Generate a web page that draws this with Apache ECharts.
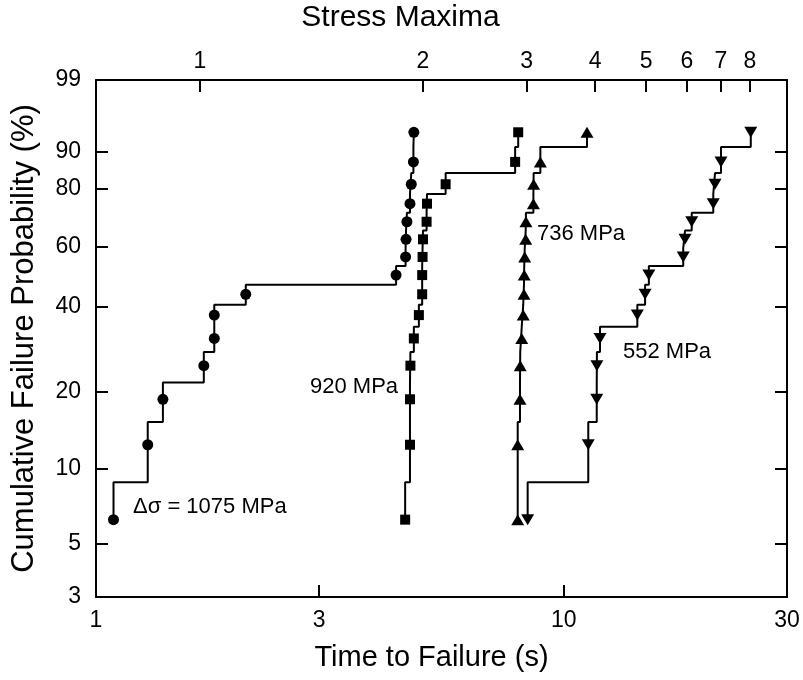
<!DOCTYPE html>
<html><head><meta charset="utf-8">
<script src="https://cdn.jsdelivr.net/npm/echarts@6/dist/echarts.min.js"></script>
<style>html,body{margin:0;padding:0;background:#fff}#c{width:803px;height:680px}</style>
</head><body><div id="c"></div>
<script>
// Cumulative failure probability (%) of each ranked specimen
const failureProbability = [6.25, 12.5, 18.75, 25, 31.25, 37.5, 43.75, 50, 56.25, 62.5, 68.75, 75, 81.25, 87.5, 93.75];
// Time to failure (s) for each stress amplitude
const time1075 = [1.09, 1.29, 1.39, 1.70, 1.79, 1.79, 2.09, 4.38, 4.59, 4.60, 4.62, 4.69, 4.72, 4.77, 4.78];
const time920  = [4.58, 4.69, 4.69, 4.70, 4.78, 4.90, 4.98, 4.98, 4.99, 5.00, 5.09, 5.10, 5.59, 7.87, 7.99];
const time736  = [7.97, 7.97, 8.06, 8.07, 8.13, 8.19, 8.22, 8.23, 8.25, 8.29, 8.30, 8.61, 8.62, 8.91, 11.21];
const time552  = [8.37, 11.28, 11.76, 11.77, 11.95, 14.36, 14.92, 15.2, 18.0, 18.16, 18.77, 20.87, 21.05, 21.68, 25.1];
// Axis ticks
const timeTicks = [1, 3, 10, 30];
const probabilityTicks = [3, 5, 10, 20, 40, 60, 80, 90, 99];
const stressMaximaLabels = [1, 2, 3, 4, 5, 6, 7, 8];
const stressMaximaTimes = [1.667, 5.0, 8.333, 11.667, 15.0, 18.333, 21.667, 25.0];

const lg = v => Math.log10(v);
const wb = p => Math.log(-Math.log(1 - p / 100));
const FONT = '"Liberation Sans", Arial, Helvetica, sans-serif';

function stepLine(times, probs) {
  const w = probs.map(wb), pts = [];
  for (let i = 0; i < times.length; i++) {
    const lo = i === 0 ? w[0] : (w[i - 1] + w[i]) / 2;
    const hi = i === times.length - 1 ? w[i] : (w[i] + w[i + 1]) / 2;
    pts.push([lg(times[i]), lo], [lg(times[i]), hi]);
  }
  return pts;
}
const pts = (times, probs) => times.map((t, i) => [lg(t), wb(probs[i])]);

const seriesDefs = [
  {name: '1075 MPa', t: time1075, symbol: 'circle', size: 11, rot: 0},
  {name: '920 MPa', t: time920, symbol: 'rect', size: 10, rot: 0},
  {name: '736 MPa', t: time736, symbol: 'triangle', size: [13, 11], rot: 0},
  {name: '552 MPa', t: time552, symbol: 'triangle', size: [13, 11], rot: 180}
];
const series = [];
seriesDefs.forEach(d => {
  series.push({type: 'line', data: stepLine(d.t, failureProbability), showSymbol: false, symbol: 'none',
    lineStyle: {color: '#000', width: 2}, silent: true, z: 2, animation: false});
  series.push({type: 'scatter', data: pts(d.t, failureProbability), symbol: d.symbol, symbolSize: d.size,
    symbolRotate: d.rot, itemStyle: {color: '#000', opacity: 1}, z: 3, animation: false});
});

const axisLine = {onZero: false, lineStyle: {color: '#000', width: 2}};
const tickStyle = {color: '#000', width: 2};
const findLabel = (vals, labels) => v => {
  const i = vals.findIndex(x => Math.abs(x - v) < 1e-6);
  return i >= 0 ? String(labels[i]) : '';
};
const xMin = lg(timeTicks[0]), xMax = lg(timeTicks[timeTicks.length - 1]);
const yMin = wb(probabilityTicks[0]), yMax = wb(probabilityTicks[probabilityTicks.length - 1]);

const option = {
  backgroundColor: '#fff',
  animation: false,
  grid: {left: 96, top: 80, right: 16, bottom: 83, containLabel: false, outerBoundsMode: 'none'},
  xAxis: [
    {type: 'value', position: 'bottom', min: xMin, max: xMax, axisLine,
     splitLine: {show: false},
     axisTick: {inside: true, length: 12, lineStyle: tickStyle, customValues: timeTicks.map(lg)},
     axisLabel: {customValues: timeTicks.map(lg), formatter: findLabel(timeTicks.map(lg), timeTicks),
       color: '#000', fontSize: 23, fontFamily: FONT, margin: 12, showMinLabel: true, showMaxLabel: true},
     name: 'Time to Failure (s)', nameLocation: 'middle', nameGap: 46,
     nameTextStyle: {color: '#000', fontSize: 29, fontFamily: FONT, padding: [0, 20, 0, 0]}},
    {type: 'value', position: 'top', min: xMin, max: xMax, axisLine,
     splitLine: {show: false},
     axisTick: {inside: true, length: 12, lineStyle: tickStyle, customValues: stressMaximaTimes.map(lg)},
     axisLabel: {customValues: stressMaximaTimes.map(lg), formatter: findLabel(stressMaximaTimes.map(lg), stressMaximaLabels),
       color: '#000', fontSize: 23, fontFamily: FONT, margin: 7},
     name: 'Stress Maxima', nameLocation: 'middle', nameGap: 47,
     nameTextStyle: {color: '#000', fontSize: 30, fontFamily: FONT, padding: [0, 82, 0, 0]}},
  ],
  yAxis: [
    {type: 'value', position: 'left', min: yMin, max: yMax, axisLine,
     splitLine: {show: false},
     axisTick: {inside: true, length: 12, lineStyle: tickStyle, customValues: probabilityTicks.map(wb)},
     axisLabel: {customValues: probabilityTicks.map(wb), formatter: findLabel(probabilityTicks.map(wb), probabilityTicks),
       color: '#000', fontSize: 23, fontFamily: FONT, margin: 15, showMinLabel: true, showMaxLabel: true},
     name: 'Cumulative Failure Probability (%)', nameLocation: 'middle', nameGap: 56,
     nameTextStyle: {color: '#000', fontSize: 31, fontFamily: FONT}},
    {type: 'value', position: 'right', min: yMin, max: yMax, axisLine,
     splitLine: {show: false},
     axisTick: {inside: true, length: 12, lineStyle: tickStyle, customValues: probabilityTicks.map(wb)},
     axisLabel: {show: false}}
  ],
  series,
  graphic: [
    {type: 'text', left: 133, top: 496, style: {text: '\u0394\u03c3 = 1075 MPa', font: '22px ' + FONT, fill: '#000'}},
    {type: 'text', left: 310, top: 376, style: {text: '920 MPa', font: '22px ' + FONT, fill: '#000'}},
    {type: 'text', left: 537, top: 223, style: {text: '736 MPa', font: '22px ' + FONT, fill: '#000'}},
    {type: 'text', left: 623, top: 341, style: {text: '552 MPa', font: '22px ' + FONT, fill: '#000'}}
  ]
};
const chart = echarts.init(document.getElementById('c'), null, {renderer: 'canvas'});
chart.setOption(option);
</script></body></html>
